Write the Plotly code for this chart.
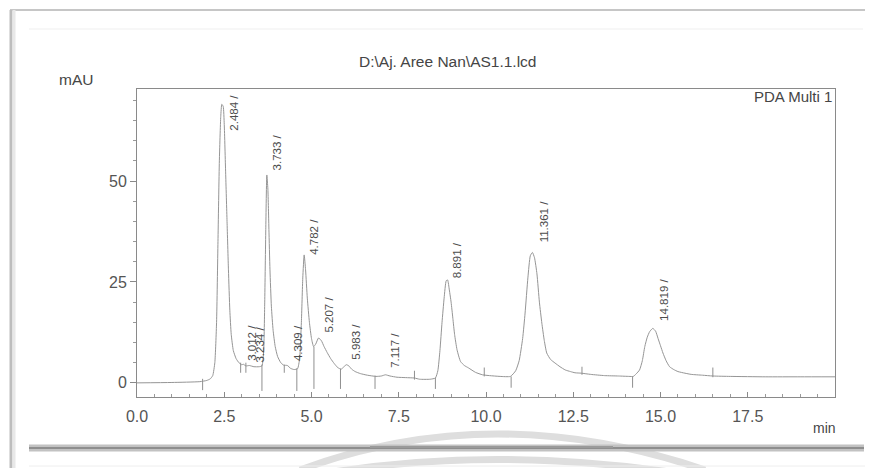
import plotly.graph_objects as go

# ---------------- data ----------------
time_min = [0.0, 1.0, 1.8, 2.0, 2.1, 2.17, 2.23, 2.28, 2.32, 2.36, 2.40, 2.43, 2.47, 2.50,
            2.54, 2.58, 2.62, 2.66, 2.70, 2.76, 2.84, 2.92, 3.0, 3.05, 3.12, 3.22, 3.35,
            3.5, 3.58, 3.63, 3.66, 3.69, 3.72, 3.75, 3.78, 3.81, 3.85, 3.9, 3.96, 4.03,
            4.12, 4.2, 4.31, 4.4, 4.5, 4.6, 4.66, 4.71, 4.75, 4.79, 4.83, 4.88, 4.94,
            5.0, 5.06, 5.12, 5.2, 5.28, 5.36, 5.45, 5.55, 5.65, 5.75, 5.85, 5.93, 6.0,
            6.07, 6.15, 6.25, 6.4, 6.6, 6.85, 7.0, 7.12, 7.25, 7.45, 7.7, 7.95, 8.1,
            8.4, 8.55, 8.62, 8.68, 8.74, 8.8, 8.86, 8.9, 8.95, 9.0, 9.05, 9.1, 9.17,
            9.27, 9.38, 9.5, 9.7, 9.9, 10.1, 10.4, 10.7, 10.85, 10.95, 11.05, 11.12,
            11.2, 11.27, 11.33, 11.39, 11.46, 11.53, 11.6, 11.67, 11.74, 11.85, 11.98,
            12.12, 12.27, 12.42, 12.55, 12.73, 13.0, 13.4, 13.8, 14.1, 14.22, 14.3,
            14.4, 14.48, 14.55, 14.62, 14.69, 14.78, 14.86, 14.93, 15.0, 15.07, 15.16,
            15.26, 15.38, 15.5, 15.7, 15.88, 16.2, 16.5, 17.0, 18.0, 19.0, 20.0]
signal_mau = [0.0, 0.1, 0.3, 0.6, 1.0, 1.8, 5, 15, 35, 55, 66, 69, 68.5, 64,
              52, 40, 28, 18, 12, 8, 6, 5, 4.5, 4.6, 4.2, 4.3, 4.0,
              4.0, 4.2, 8, 20, 38, 51.5, 48, 38, 28, 19, 13, 9, 6.5,
              5, 4.4, 4.3, 3.6, 3.3, 3.5, 6, 15, 26, 31.7, 28, 21, 15,
              11, 9, 9.6, 11.1, 10.5, 9, 7.5, 6, 4.8, 3.8, 3.4, 4.0, 4.5,
              4.2, 3.4, 2.8, 2.3, 1.9, 1.6, 1.7, 2.0, 1.7, 1.4, 1.3, 1.2, 0.9,
              0.9, 1.2, 3, 8, 15, 21, 25.3, 25.5, 23, 20, 16, 12, 8.2,
              5.3, 4.3, 3.7, 2.6, 2.0, 1.8, 1.6, 1.6, 3, 5.5, 11, 17.3,
              26, 31.5, 32.3, 31, 27, 20, 14.8, 10.5, 7.4, 5.8, 4.9,
              4.0, 3.2, 2.8, 2.5, 2.4, 2.1, 1.8, 1.7, 1.6, 1.6, 2.2,
              3.2, 5.5, 9, 11.3, 12.7, 13.5, 12.8, 11, 9.2, 7.4, 5.5,
              4, 3.3, 2.8, 2.4, 2.1, 1.9, 1.7, 1.6, 1.5, 1.5, 1.5]

# peak retention times (labels)
peak_rt = [2.484, 3.012, 3.234, 3.733, 4.309, 4.782, 5.207, 5.983, 7.117, 8.891, 11.361, 14.819]
peak_text = ["2.484 /", "3.012 /", "3.234 /", "3.733 /", "4.309 /", "4.782 /",
             "5.207 /", "5.983 /", "7.117 /", "8.891 /", "11.361 /", "14.819 /"]

# integration start / end marks (time, upper end, lower end in mAU)
mark_t = [1.88, 2.97, 3.12, 3.58, 4.22, 4.58, 5.07, 5.83, 6.82, 7.95, 8.55, 9.95, 10.72, 12.75, 14.2, 16.5]
mark_top = [1.0, 5.0, 5.0, 4.5, 4.5, 3.6, 9.0, 3.5, 1.8, 3.0, 1.2, 3.8, 1.6, 4.0, 1.6, 3.8]
mark_bottom = [-1.8, 2.5, 2.5, -2.0, 2.5, -2.0, -1.5, -1.5, -1.5, 0.8, -1.5, 1.6, -1.2, 2.0, -1.2, 1.4]

x_ticks = [0.0, 2.5, 5.0, 7.5, 10.0, 12.5, 15.0, 17.5]
y_ticks = [0, 25, 50]

# ---------------- layout helpers ----------------
label_base = [61.9, 5.0, 4.5, 52.2, 5.0, 31.2, 11.9, 5.2, 3.2, 25.5, 34.2, 14.9]

# the page body has an 8px margin, so the figure is drawn 8px in from the window corner
OFF = 8
W, H = 873 - OFF, 468 - OFF
L, T = 137 - OFF, 89 - OFF
R = W - (835 - OFF)
B = H - (397 - OFF)
PW, PH = W - L - R, H - T - B


def PX(x):
    return (x - OFF - L) / PW


def PY(y):
    return (H - B - (y - OFF)) / PH


TXT = "#454545"
FONT = "Liberation Sans, Arial, sans-serif"

fig = go.Figure()

fig.add_trace(go.Scatter(
    x=time_min, y=signal_mau, mode="lines",
    line=dict(color="#959595", width=1, shape="spline", smoothing=0.5),
    hoverinfo="x+y", showlegend=False))

mx, my = [], []
for t, a, b in zip(mark_t, mark_top, mark_bottom):
    mx += [t, t, None]
    my += [a, b, None]
fig.add_trace(go.Scatter(x=mx, y=my, mode="lines",
                         line=dict(color="#8f8f8f", width=1),
                         hoverinfo="skip", showlegend=False))

for rt, txt, yb in zip(peak_rt, peak_text, label_base):
    fig.add_annotation(x=rt, y=yb, xref="x", yref="y", text=txt, showarrow=False,
                       textangle=-90, xanchor="center", yanchor="bottom", xshift=10,
                       font=dict(family=FONT, size=11.5, color="#4c4c4c"))

# titles / texts
fig.add_annotation(x=PX(447), y=PY(61), xref="paper", yref="paper",
                   text="D:\\Aj. Aree Nan\\AS1.1.lcd", showarrow=False,
                   xanchor="center", yanchor="middle",
                   font=dict(family=FONT, size=15.5, color=TXT))
fig.add_annotation(x=PX(76), y=PY(80), xref="paper", yref="paper", text="mAU",
                   showarrow=False, xanchor="center", yanchor="middle",
                   font=dict(family=FONT, size=15.5, color=TXT))
fig.add_annotation(x=PX(834), y=PY(96), xref="paper", yref="paper", text="PDA Multi 1",
                   showarrow=False, xanchor="right", yanchor="middle",
                   font=dict(family=FONT, size=15, color=TXT))
fig.add_annotation(x=PX(824), y=PY(428), xref="paper", yref="paper", text="min",
                   showarrow=False, xanchor="center", yanchor="middle",
                   font=dict(family=FONT, size=14, color=TXT))

# page decorations (scanned frame)
shapes = []


def pline(x0, y0, x1, y1, color, width):
    shapes.append(dict(type="line", xref="paper", yref="paper",
                       x0=PX(x0), y0=PY(y0), x1=PX(x1), y1=PY(y1),
                       line=dict(color=color, width=width), layer="above"))


def parc(x0, y0, cx, cy, x1, y1, color, width):
    path = "M %f,%f Q %f,%f %f,%f" % (PX(x0), PY(y0), PX(cx), PY(cy), PX(x1), PY(y1))
    shapes.append(dict(type="path", xref="paper", yref="paper", path=path,
                       line=dict(color=color, width=width), layer="above"))


pline(10, 10, 873, 10, "#c6c6c6", 2)
pline(11, 10, 11, 468, "#bdbdbd", 3)
pline(14, 10, 14, 468, "#e8e8e8", 3)
pline(29, 29, 863, 29, "#efefef", 1)
parc(300, 470, 493, 398, 705, 470, "#dedede", 7)
parc(315, 475, 493, 444, 690, 475, "#dedede", 7)
pline(29, 448, 864, 448, "#c2c2c2", 7)
pline(29, 448, 864, 448, "#8e8e8e", 2)
pline(370, 447, 613, 447, "#9a9a9a", 2)
pline(29, 466, 873, 466, "#eeeeee", 1)

fig.update_layout(
    width=W, height=H, margin=dict(l=L, r=R, t=T, b=B),
    paper_bgcolor="white", plot_bgcolor="white",
    font=dict(family=FONT, color=TXT),
    shapes=shapes, showlegend=False,
    xaxis=dict(range=[0, 20], tickmode="array", tickvals=x_ticks,
               ticktext=["%.1f" % v for v in x_ticks],
               ticks="inside", ticklen=5, tickcolor="#8a8a8a",
               minor=dict(tickmode="linear", tick0=0, dtick=0.5, ticks="inside",
                          ticklen=3, tickcolor="#9a9a9a"),
               showline=True, linecolor="#8a8a8a", linewidth=1, mirror=True,
               showgrid=False, zeroline=False, ticklabelstandoff=5,
               tickfont=dict(family=FONT, size=16, color="#555555")),
    yaxis=dict(range=[-3.5, 72.8], tickmode="array", tickvals=y_ticks,
               ticks="outside", ticklen=6, tickcolor="#8a8a8a",
               minor=dict(tickmode="linear", tick0=0, dtick=5, ticks="outside",
                          ticklen=3, tickcolor="#9a9a9a"),
               showline=True, linecolor="#8a8a8a", linewidth=1, mirror=True,
               showgrid=False, zeroline=False,
               tickfont=dict(family=FONT, size=16, color="#555555")),
)

fig.write_html("out.html")
